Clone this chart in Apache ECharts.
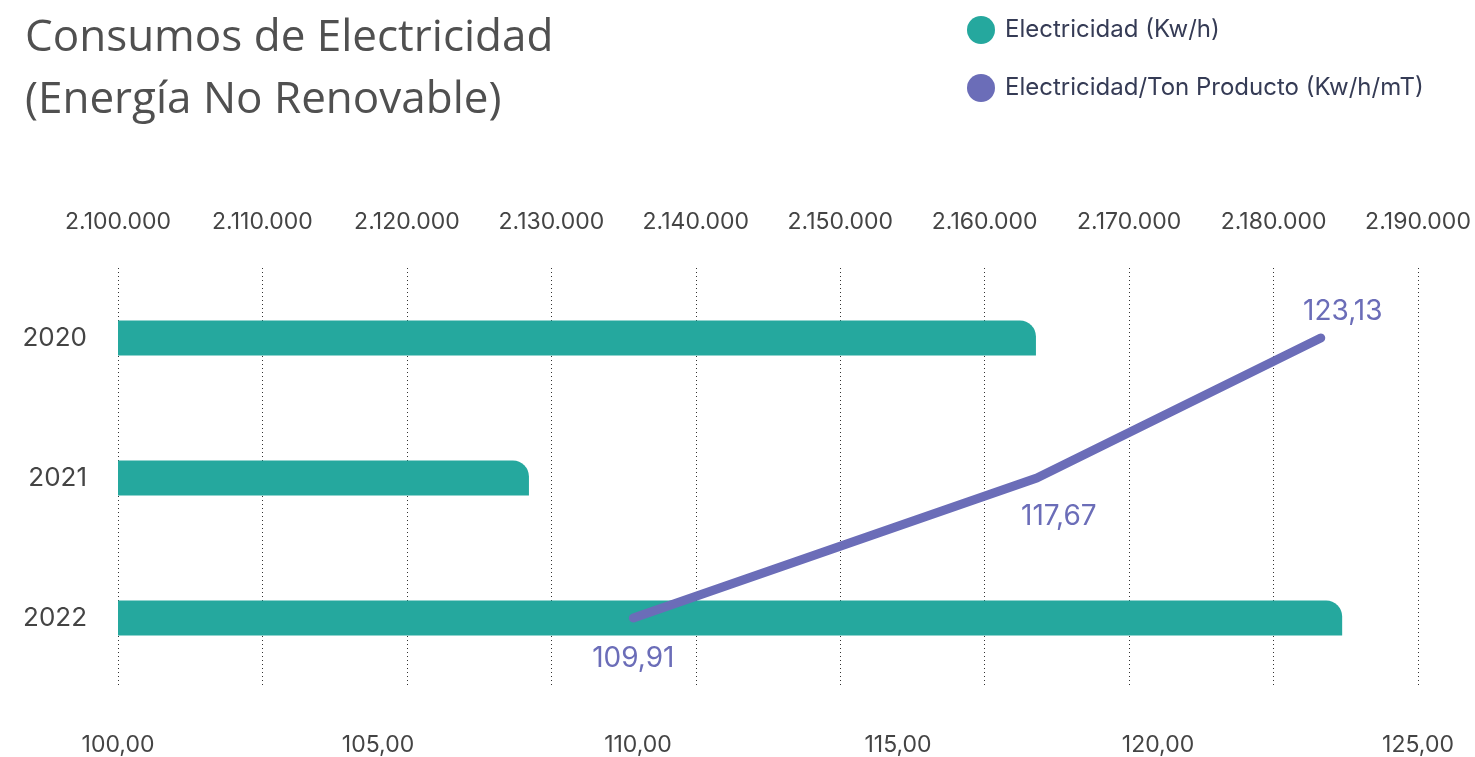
<!DOCTYPE html>
<html>
<head>
<meta charset="utf-8">
<title>Consumos de Electricidad</title>
<style>
    html, body {margin:0;padding:0;background:#fff;}
    #chart {width:1475px;height:757px;}
</style>
</head>
<body>
<div id="chart"></div>
<script src="https://cdn.jsdelivr.net/npm/echarts@6/dist/echarts.min.js"></script>
<script>
// datos
var years = ['2020', '2021', '2022'];
var kwh = [2163550, 2128450, 2184750];          // Electricidad (Kw/h)
var kwhTon = [123.13, 117.67, 109.91];          // Electricidad/Ton Producto (Kw/h/mT)
var topTicks = [2100000, 2190000, 10000];       // min, max, intervalo
var bottomTicks = [100, 125, 5];

var teal = '#25A89E';
var purple = '#6B6DB8';

// posicion de cada etiqueta de la linea
var labelPos = [
    {position: 'top', offset: [22, -7]},
    {position: 'bottom', offset: [22, 20]},
    {position: 'bottom', offset: [0, 22]}
];

function miles(v){
    return String(v).replace(/\B(?=(\d{3})+(?!\d))/g, '.');
}
function dec(v){
    return v.toFixed(2).replace('.', ',');
}

var lineData = [];
for (var i = 0; i < years.length; i++) {
    lineData.push({
        value: [kwhTon[i], years[i]],
        label: labelPos[i]
    });
}

var chart = echarts.init(document.getElementById('chart'));
chart.setOption({
    animation: false,
    textStyle: {fontFamily: 'Inter'},
    title: {
        text: 'Consumos de Electricidad\n(Energía No Renovable)',
        left: 20,
        top: 2,
        textStyle: {fontFamily: 'Open Sans', fontSize: 44, fontWeight: 'normal', color: '#505050', lineHeight: 62}
    },
    legend: {
        orient: 'vertical',
        left: 962,
        top: 11,
        itemGap: 30,
        icon: 'circle',
        itemWidth: 28,
        itemHeight: 28,
        textStyle: {fontFamily: 'Inter', fontSize: 24, color: '#353b55', padding: [0, 0, 0, 5]},
        data: ['Electricidad (Kw/h)', 'Electricidad/Ton Producto (Kw/h/mT)']
    },
    grid: {left: 118, right: 57, top: 268, bottom: 69},
    xAxis: [{
        type: 'value',
        position: 'top',
        min: topTicks[0], max: topTicks[1], interval: topTicks[2],
        axisLine: {show: false},
        axisTick: {show: false},
        axisLabel: {margin: 34, fontSize: 23, color: '#444', formatter: miles},
        splitLine: {show: true, lineStyle: {type: [1, 3], color: '#333', width: 1}}
    }, {
        type: 'value',
        position: 'bottom',
        min: bottomTicks[0], max: bottomTicks[1], interval: bottomTicks[2],
        axisLine: {show: false},
        axisTick: {show: false},
        axisLabel: {margin: 46, fontSize: 23, color: '#444', formatter: dec},
        splitLine: {show: false}
    }],
    yAxis: {
        type: 'category',
        data: years,
        inverse: true,
        axisLine: {show: false},
        axisTick: {show: false},
        axisLabel: {margin: 31, fontSize: 26, color: '#444'}
    },
    series: [{
        name: 'Electricidad (Kw/h)',
        type: 'bar',
        xAxisIndex: 0,
        data: kwh,
        barWidth: 35,
        itemStyle: {color: teal, borderRadius: [0, 16, 0, 0]}
    }, {
        name: 'Electricidad/Ton Producto (Kw/h/mT)',
        type: 'line',
        xAxisIndex: 1,
        data: lineData,
        showSymbol: true,
        symbol: 'circle',
        symbolSize: 0,
        itemStyle: {color: purple},
        lineStyle: {color: purple, width: 9, cap: 'round', join: 'round'},
        label: {show: true, color: purple, fontSize: 28, formatter: function(p){ return dec(p.value[0]); }}
    }]
});
</script>
</body>
</html>
